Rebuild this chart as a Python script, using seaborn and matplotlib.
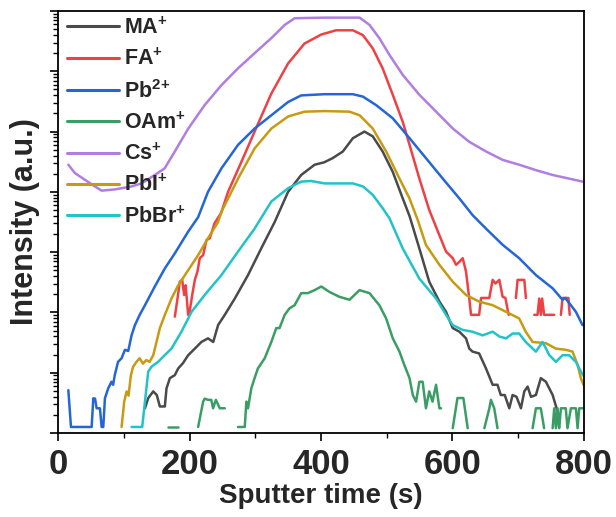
import numpy as np
import pandas as pd
import matplotlib
matplotlib.use("Agg")
import matplotlib.pyplot as plt
import seaborn as sns
from matplotlib.ticker import LogLocator, NullFormatter, MultipleLocator

nan = np.nan

# ---- data: sputter time (s) and log10(intensity) ----
MA_t = [132, 137, 144.6, 150, 154.7, 162.3, 164.8, 170, 177.5, 182.6, 190, 197.8, 208, 218, 228, 236, 243.4, 253.6,
        268.8, 289, 309, 329.6, 350, 370, 390.4, 405, 418, 433.5, 448.7, 466.4, 479, 494, 509.5, 524.7, 535, 550, 565,
        580.5, 590.6, 600.8, 611, 621, 626, 631, 641, 651.5, 661.6, 669, 674, 680, 687, 692, 698, 704.7, 709.8, 714.9,
        720, 727.5, 735, 742.7, 753, 759, 763]
MA_v = [0.41, 0.58, 0.69, 0.63, 0.44, 0.44, 0.74, 0.91, 0.96, 1.07, 1.16, 1.29, 1.40, 1.51, 1.57, 1.51, 1.79, 1.96,
        2.23, 2.62, 3.06, 3.50, 4.0, 4.28, 4.45, 4.49, 4.56, 4.67, 4.89, 5.0, 4.92, 4.67, 4.33, 3.89, 3.60, 3.06, 2.51,
        2.18, 2.01, 1.74, 1.68, 1.57, 1.40, 1.35, 1.32, 1.07, 0.80, 0.80, 0.63, 0.63, 0.41, 0.63, 0.60, 0.41, 0.69, 0.77,
        0.60, 0.63, 0.91, 0.85, 0.63, 0.41, 0.10]

FA_t = [177.5, 181.6, 185, 188.7, 191.7, 194, 197.8, 200, 204, 208, 212, 215.5, 220.6, 225.7, 230.7, 238, 248, 258.6,
        279, 299, 324.5, 350, 375, 400.6, 423, 448.7, 464, 479, 494, 509.5, 524.7, 535, 550, 565, 580.5, 590.6, 600.8,
        605.9, 611, 616, 621, 626, 628.7, 641, 644, 656.5, 661.6, 666, 671.8, 676.8, 681, 686, nan,
        697, 699.6, 709.8, 712.3, nan,
        725, 730, 732.6, 735, 737, 740, 742.7, 755.4, nan,
        765.6, 768, 777, 779]
FA_v = [1.93, 2.23, 2.51, 2.54, 2.29, 2.45, 1.96, 2.01, 2.29, 2.54, 2.68, 2.90, 2.95, 3.20, 3.23, 3.48, 3.65, 4.00,
        4.50, 5.0, 5.63, 6.13, 6.46, 6.61, 6.68, 6.68, 6.60, 6.38, 6.05, 5.61, 5.16, 4.78, 4.22, 3.70, 3.28, 3.01, 2.90,
        2.79, 2.84, 2.90, 2.68, 2.23, 1.96, 1.96, 2.24, 2.24, 2.54, 2.48, 2.54, 2.26, 2.24, 1.96, nan,
        2.24, 2.54, 2.54, 2.24, nan,
        1.96, 1.96, 2.23, 1.96, 2.23, 1.96, 1.96, 1.96, nan,
        1.96, 2.24, 2.24, 1.96]

Pb_t = [15.3, 19.3, 50.8, 53.3, 56, 58.4, 63.4, 66, 68.5, 71, 76, 81, 83.5, 86, 91, 96.4, 101.5, 106.5, 111.6, 116.7,
        124, 132, 147, 162.3, 177.5, 197.8, 213, 228, 248.5, 273.8, 299, 324.5, 350, 370, 405.6, 448.7, 464, 484, 509.5,
        535, 560, 585.6, 611, 631, 651.5, 677, 702, 727.5, 753, 768, 772, 780.8, 788.4, 798.5]
Pb_v = [0.71, 0.10, 0.10, 0.575, 0.57, 0.41, 0.41, 0.10, 0.10, 0.575, 0.74, 0.85, 0.80, 0.96, 1.18, 1.24, 1.38, 1.36,
        1.62, 1.79, 1.96, 2.12, 2.43, 2.73, 2.98, 3.34, 3.58, 4.0, 4.39, 4.78, 5.05, 5.27, 5.49, 5.60, 5.62, 5.62, 5.58,
        5.44, 5.22, 4.89, 4.56, 4.22, 3.89, 3.615, 3.39, 3.12, 2.90, 2.62, 2.40, 2.21, 2.24, 2.12, 2.01, 1.79]

OAm_t = [167, 181.6, nan,
         213, 220.6, 223, 228, 233, 235.8, 240, 246, 253.6, nan,
         273.8, 284, 286.5, 289, 294, 299, 304, 314.4, 324.5, 332, 337, 344.8, 352.4, 360, 370, 380, 390.4, 400.6, 413,
         428, 443.6, 458.8, 474, 489, 499.4, 509.5, 519.7, 527, 535, 540, 545, 550, 555, 560, 565, 570, 575.4, 580.5,
         583, nan,
         600.8, 608, 617, 623.6, nan,
         649, 656.6, 659, 664, 669, nan,
         722.5, 727.5, 735, 740, nan,
         753, 755.4, 758, 760.5, 763, 765.6, 773, 775.6, 780.8, 788.4, 791, 793.5, 798.5]
OAm_v = [0.10, 0.10, nan,
         0.10, 0.52, 0.57, 0.55, 0.55, 0.41, 0.55, 0.41, 0.41, nan,
         0.10, 0.10, 0.52, 0.41, 0.74, 0.91, 1.07, 1.24, 1.51, 1.74, 1.74, 1.96, 2.07, 2.12, 2.32, 2.32, 2.37, 2.43,
         2.34, 2.26, 2.21, 2.37, 2.32, 2.12, 1.90, 1.57, 1.35, 1.13, 0.91, 0.63, 0.52, 0.85, 0.85, 0.41, 0.69, 0.52,
         0.80, 0.41, 0.41, nan,
         0.08, 0.58, 0.58, 0.08, nan,
         0.08, 0.41, 0.55, 0.41, 0.08, nan,
         0.08, 0.41, 0.41, 0.08, nan,
         0.08, 0.41, 0.08, 0.41, 0.08, 0.41, 0.41, 0.08, 0.41, 0.41, 0.08, 0.41, 0.41]

Cs_t = [15.3, 25.4, 40.6, 55.8, 66, 86, 111.6, 126.8, 147, 162, 177.5, 198, 223, 248.5, 273.8, 299, 324.5, 345, 360,
        405.6, 459, 474, 489, 504.5, 524.7, 550, 575.5, 601, 626, 651.5, 677, 702, 727.5, 753, 778, 798.5]
Cs_v = [4.45, 4.31, 4.20, 4.09, 4.02, 4.04, 4.09, 4.14, 4.28, 4.39, 4.67, 5.05, 5.44, 5.77, 6.05, 6.30, 6.55, 6.77, 6.88,
        6.89, 6.89, 6.77, 6.55, 6.27, 5.94, 5.61, 5.33, 5.05, 4.83, 4.67, 4.53, 4.45, 4.36, 4.28, 4.22, 4.17]

PbI_t = [96.4, 100.4, 104, 107, 110.6, 114, 119, 124, 129, 134, 139, 144.6, 149.6, 154.7, 162.3, 172.4, 182.6, 197.8,
         213, 228, 243.4, 248.5, 273.8, 299, 324.5, 350, 375, 405.6, 443.6, 459, 479, 499.4, 519.7, 535, 547.6, 560,
         580.5, 600.8, 621, 641, 661.6, 682, 702, 712, 722.5, 742.7, 758, 773, 783.3, 791, 796, 800]
PbI_v = [0.10, 0.52, 0.69, 0.62, 0.96, 1.10, 1.18, 1.24, 1.15, 1.21, 1.18, 1.29, 1.51, 1.74, 1.96, 2.23, 2.45, 2.70,
         2.95, 3.23, 3.50, 3.67, 4.22, 4.72, 5.05, 5.25, 5.33, 5.34, 5.33, 5.27, 5.05, 4.67, 4.22, 3.89, 3.53, 3.12,
         2.79, 2.51, 2.29, 2.18, 2.12, 2.01, 1.90, 1.68, 1.51, 1.49, 1.40, 1.38, 1.35, 1.13, 0.91, 0.80]

PbBr_t = [111.6, 127.8, 132, 137, 142, 152, 162, 172.4, 187.6, 203, 223, 248.5, 273.8, 299, 324.5, 350, 370, 385,
          405.6, 448.7, 464, 479, 494, 504.5, 524.7, 550, 575.5, 590.6, 600.8, 616, 631, 646.4, 661.6, 672, 682, 692,
          702, 712, 727.5, 737.7, 748, 758, 768, 778, 788.4, 796, 800]
PbBr_v = [0.10, 0.10, 0.52, 1.02, 1.10, 1.18, 1.29, 1.40, 1.68, 2.01, 2.29, 2.62, 3.01, 3.39, 3.84, 4.06, 4.17, 4.18,
          4.14, 4.14, 4.09, 3.95, 3.73, 3.56, 3.06, 2.56, 2.23, 1.96, 1.79, 1.71, 1.68, 1.62, 1.68, 1.60, 1.57, 1.65,
          1.65, 1.51, 1.35, 1.51, 1.29, 1.18, 1.29, 1.29, 1.18, 1.02, 0.95]

ion_labels = ["MA$^{+}$", "FA$^{+}$", "Pb$^{2}$$^{+}$", "OAm$^{+}$", "Cs$^{+}$", "PbI$^{+}$", "PbBr$^{+}$"]
ion_colors = ["#4a4a4a", "#ee4146", "#2466d8", "#3a9e64", "#b07ee0", "#c89a12", "#22c3c8"]
series = [(MA_t, MA_v), (FA_t, FA_v), (Pb_t, Pb_v), (OAm_t, OAm_v), (Cs_t, Cs_v), (PbI_t, PbI_v), (PbBr_t, PbBr_v)]

# ---- build long table, splitting at NaN gaps into units ----
rows = []
for lab, (ts, vs) in zip(ion_labels, series):
    seg = 0
    for t, v in zip(ts, vs):
        if np.isnan(t):
            seg += 1
            continue
        rows.append((t, 10 ** v, lab, f"{lab}_{seg}"))
df = pd.DataFrame(rows, columns=["time", "intensity", "ion", "seg"])

sns.set_theme(style="ticks")
plt.rcParams["font.family"] = ["Liberation Sans", "DejaVu Sans"]
plt.rcParams["mathtext.fontset"] = "custom"
plt.rcParams["mathtext.rm"] = "Liberation Sans:bold"
plt.rcParams["mathtext.bf"] = "Liberation Sans:bold"
plt.rcParams["mathtext.it"] = "Liberation Sans:bold"
plt.rcParams["mathtext.default"] = "rm"

fig = plt.figure(figsize=(6.16, 5.17), dpi=100)
ax = fig.add_axes([58.3 / 616, (517 - 433) / 517, (583.5 - 58.3) / 616, (433 - 11) / 517])

sns.lineplot(data=df, x="time", y="intensity", hue="ion", units="seg", estimator=None, sort=False,
             hue_order=ion_labels, palette=ion_colors, linewidth=1.8, ax=ax)

ax.set_yscale("log")
ax.set_xlim(0, 800)
ax.set_ylim(1, 1e7)
ax.xaxis.set_major_locator(MultipleLocator(200))
ax.xaxis.set_minor_locator(MultipleLocator(100))
ax.yaxis.set_major_locator(LogLocator(base=10, numticks=20))
ax.yaxis.set_minor_locator(LogLocator(base=10, subs=np.arange(2, 10), numticks=20))
ax.yaxis.set_major_formatter(NullFormatter())
ax.yaxis.set_minor_formatter(NullFormatter())

ax.tick_params(axis="both", which="major", direction="out", length=6, width=1.2, color="black")
ax.tick_params(axis="both", which="minor", direction="out", length=3.5, width=1.0, color="black")
ax.tick_params(axis="x", which="major", labelsize=25, pad=5)
for lbl in ax.get_xticklabels():
    lbl.set_fontweight("bold")

for sp in ax.spines.values():
    sp.set_linewidth(1.3)
    sp.set_color("black")

ax.set_xlabel("Sputter time (s)", fontsize=20, fontweight="bold", labelpad=1)
ax.set_ylabel("Intensity (a.u.)", fontsize=22, fontweight="bold", labelpad=4)

handles, labels = ax.get_legend_handles_labels()
ax.legend(handles, labels, loc="upper left", bbox_to_anchor=(0.0, 1.005), frameon=False,
          handlelength=2.4, handletextpad=0.25, labelspacing=0.45, borderaxespad=0.0,
          prop={"weight": "bold", "size": 15.5})
for line in ax.get_legend().get_lines():
    line.set_linewidth(2.2)

fig.savefig("out.png", dpi=100)
